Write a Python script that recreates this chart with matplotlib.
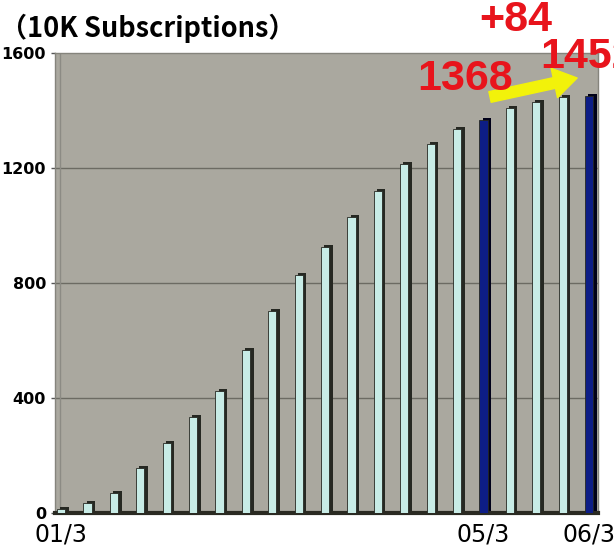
import matplotlib
matplotlib.use("Agg")
import matplotlib.pyplot as plt
import numpy as np

# ---- data ----
quarters = ["01/3", "01/6", "01/9", "01/12", "02/3", "02/6", "02/9", "02/12",
            "03/3", "03/6", "03/9", "03/12", "04/3", "04/6", "04/9", "04/12",
            "05/3", "05/6", "05/9", "05/12", "06/3"]
subscriptions = [14, 35, 70, 157, 243, 334, 424, 567, 703, 828, 925, 1030,
                 1120, 1214, 1283, 1336, 1368, 1408, 1430, 1447, 1452]
highlight = ["05/3", "06/3"]
shown_labels = ["01/3", "05/3", "06/3"]
yticks = [0, 400, 800, 1200, 1600]
title = "（10K Subscriptions）"

# ---- styling ----
W, H, DPI = 614, 546, 100
fig = plt.figure(figsize=(W / DPI, H / DPI), dpi=DPI)
fig.patch.set_facecolor("white")
ax = fig.add_axes([55 / W, (H - 513) / H, (598 - 55) / W, (513 - 53) / H])
ax.set_facecolor("#aaa89f")

x = np.arange(len(quarters))
vals = np.array(subscriptions)
is_hi = np.array([q in highlight for q in quarters])

face = np.where(is_hi, "#0d1d86", "#c8ece6")
shadow = np.where(is_hi, "#000018", "#262822")

ax.set_xlim(-0.23, len(quarters) - 1 + 0.34)
ax.set_ylim(0, 1600)

for yv in yticks[1:-1]:
    ax.axhline(yv, color="#6c6b63", lw=1.0, zorder=1)
ax.axvline(-0.05, color="#8c8b84", lw=1.0, zorder=1)

ax.bar(x + 0.13, vals + 6, width=0.32, color=shadow, zorder=2, linewidth=0)
ax.bar(x, vals, width=0.31, color=face, edgecolor="#262822", linewidth=0.6, zorder=3)

ax.set_yticks(yticks)
ax.set_yticklabels([str(v) for v in yticks], fontsize=11.5, fontweight="bold",
                   family="DejaVu Sans")
ax.tick_params(axis="y", length=3, width=1, color="#555", pad=3.5)

ax.set_xticks([quarters.index(q) for q in shown_labels])
ax.set_xticklabels(shown_labels, fontsize=17, family="DejaVu Sans", fontweight="medium")
ax.tick_params(axis="x", length=0, pad=7)

for s in ["top", "right", "left"]:
    ax.spines[s].set_color("#85847c")
    ax.spines[s].set_linewidth(1.0)
ax.spines["bottom"].set_color("#2a2a22")
ax.spines["bottom"].set_linewidth(3)

# ---- annotations ----
i0 = quarters.index(highlight[0])
i1 = quarters.index(highlight[1])
v0, v1 = subscriptions[i0], subscriptions[i1]
red = "#e8141c"
afont = dict(family=["Liberation Sans", "DejaVu Sans"], fontweight="bold",
             fontsize=31, color=red, va="baseline", clip_on=False, zorder=6)
ax.text(i0 - 0.7, v0 + 103, str(v0), ha="center", **afont)
ax.text(i1 - 1.86, v1 + 96, str(v1), ha="left", **afont)
ax.text(i0 + 1.23, v1 + 226, f"+{v1 - v0}", ha="center", **afont)
ax.annotate("", xy=(i1 - 0.45, v1 + 61), xytext=(i0 + 0.25, v0 + 79),
            arrowprops=dict(arrowstyle="simple,head_length=1.4,head_width=1.8,tail_width=0.65",
                            color="#f2f20a", mutation_scale=12, shrinkA=0, shrinkB=0),
            zorder=5, annotation_clip=False)

fig.text(0 / W, 1 - 37 / H, title, fontsize=19.5, fontweight="bold",
         family=["Noto Sans CJK JP", "DejaVu Sans"],
         ha="left", va="baseline")

fig.savefig("out.png", dpi=DPI)
